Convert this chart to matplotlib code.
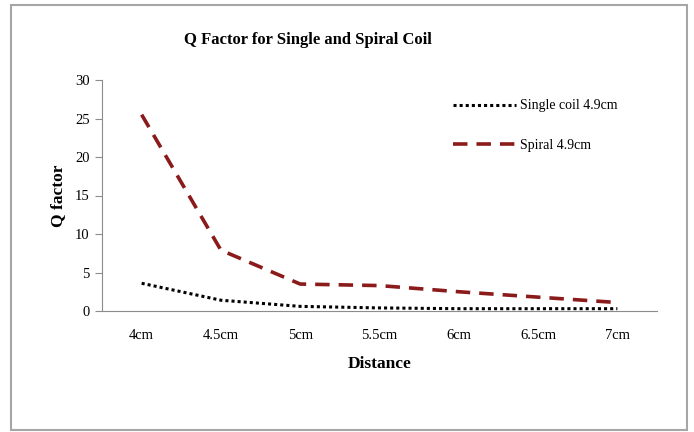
import numpy as np
import matplotlib.pyplot as plt
import matplotlib as mpl
from matplotlib.patches import Rectangle

mpl.rcParams.update({
    "font.family": "Liberation Serif",
    "font.size": 10,
})

distances = ["4cm", "4.5cm", "5cm", "5.5cm", "6cm", "6.5cm", "7cm"]
single_coil = [3.6, 1.4, 0.6, 0.4, 0.3, 0.3, 0.3]
spiral = [25.5, 7.9, 3.5, 3.3, 2.5, 1.8, 1.1]

fig = plt.figure(figsize=(6.94, 4.32), dpi=100)
W, H = 694, 432
ax = fig.add_axes([102 / W, 1 - 311 / H, (657 - 102) / W, (311 - 80) / H])

# outer chart border
fig.patches.append(Rectangle((11 / W, 2 / H), (687 - 11) / W, (427 - 2) / H,
                             transform=fig.transFigure, fill=False,
                             edgecolor="#a6a6a6", linewidth=1.5))

x = np.arange(len(distances))
ax.plot(x, single_coil, color="black", linestyle=(0, (1, 1)), linewidth=2.2,
        label="Single coil 4.9cm")
ax.plot(x, spiral, color="#8b1a1a", linestyle=(0, (4, 2.5)), linewidth=2.6,
        label="Spiral 4.9cm")

ax.set_xlim(-0.5, len(distances) - 0.5)
ax.set_ylim(0, 30)
ax.set_yticks(range(0, 31, 5))
ax.set_xticks(x)
ax.set_xticklabels(distances)

for s in ["top", "right"]:
    ax.spines[s].set_visible(False)
for s in ["left", "bottom"]:
    ax.spines[s].set_color("#8c8c8c")
ax.tick_params(axis="y", length=5, color="#8c8c8c", labelsize=10.5, pad=4)
ax.tick_params(axis="x", length=0, labelsize=10.5, pad=13)

ax.set_xlabel("Distance", fontsize=12.5, fontweight="bold", labelpad=10)
ax.set_ylabel("Q factor", fontsize=12.5, fontweight="bold", labelpad=6)
fig.text(308 / W, 1 - 40 / H, "Q Factor for Single and Spiral Coil",
         ha="center", va="center", fontsize=12, fontweight="bold")

ax.legend(loc="upper left", bbox_to_anchor=(0.61, 0.97), frameon=False,
          fontsize=10, handlelength=4.5, labelspacing=1.9, handletextpad=0.3)

fig.savefig("out.png", dpi=100)
